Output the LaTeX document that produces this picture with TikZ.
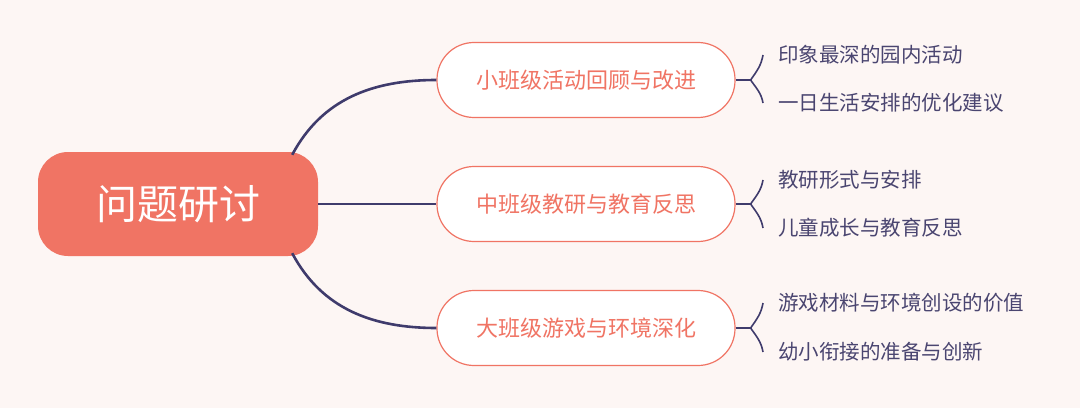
\documentclass[tikz,border=0pt]{standalone}
\usepackage{fontspec}
\newfontfamily\cjk{Noto Sans CJK SC}
\usepackage{tikz}
\usetikzlibrary{positioning,calc}
\usepackage{xcolor}
\definecolor{bgpink}{HTML}{FDF6F4}
\definecolor{salmon}{HTML}{F07464}
\definecolor{navy}{HTML}{3F3B6C}
\definecolor{leaftext}{HTML}{4A4570}

\begin{document}
\begin{tikzpicture}[x=1pt,y=1pt,
    root/.style={fill=salmon, text=white, rounded corners=30pt, minimum width=280pt,
      minimum height=104pt, inner sep=0pt, font=\cjk\fontsize{41}{41}\selectfont},
    topic/.style={draw=salmon, line width=1.2pt, fill=white, text=salmon, rounded corners=37pt,
      minimum width=298pt, minimum height=75pt, inner sep=0pt, font=\cjk\fontsize{22}{22}\selectfont},
    leaf/.style={anchor=west, text=leaftext, inner sep=0pt, font=\cjk\fontsize{20.5}{20.5}\selectfont},
    link/.style={draw=navy, line width=2.6pt},
    brace/.style={draw=navy, line width=1.6pt}]
  % Mind map: one root, three topics, two leaves per topic
  \fill[bgpink] (0,0) rectangle (1080,408);
  \node[root] (root) at (178,204) {问题研讨};
  \node[topic] (small) at (586,328) {小班级活动回顾与改进};
  \node[topic] (middle) at (586,204) {中班级教研与教育反思};
  \node[topic] (large) at (586,80) {大班级游戏与环境深化};
  \node[leaf] (small1) at (778,353) {印象最深的园内活动};
  \node[leaf] (small2) at (778,305) {一日生活安排的优化建议};
  \node[leaf] (middle1) at (778,228) {教研形式与安排};
  \node[leaf] (middle2) at (778,180) {儿童成长与教育反思};
  \node[leaf] (large1) at (778,105) {游戏材料与环境创设的价值};
  \node[leaf] (large2) at (778,56) {幼小衔接的准备与创新};
  \coordinate (rtop) at ([xshift=-26pt,yshift=-3pt]root.north east);
  \coordinate (rbot) at ([xshift=-26pt,yshift=3pt]root.south east);
  \draw[link] (rtop) to[out=62,in=180] (small.west);
  \draw[link] (root.east) -- (middle.west);
  \draw[link] (rbot) to[out=-62,in=180] (large.west);
  \coordinate (jsmall) at ([xshift=15pt]small.east);
  \coordinate (jmiddle) at ([xshift=15pt]middle.east);
  \coordinate (jlarge) at ([xshift=15pt]large.east);
  \draw[brace] (small.east) -- (jsmall);
  \draw[brace] (jsmall) to[out=55,in=-100] ([xshift=-15pt]small1.west);
  \draw[brace] (jsmall) to[out=-55,in=100] ([xshift=-15pt]small2.west);
  \draw[brace] (middle.east) -- (jmiddle);
  \draw[brace] (jmiddle) to[out=55,in=-100] ([xshift=-15pt]middle1.west);
  \draw[brace] (jmiddle) to[out=-55,in=100] ([xshift=-15pt]middle2.west);
  \draw[brace] (large.east) -- (jlarge);
  \draw[brace] (jlarge) to[out=55,in=-100] ([xshift=-15pt]large1.west);
  \draw[brace] (jlarge) to[out=-55,in=100] ([xshift=-15pt]large2.west);
\end{tikzpicture}
\end{document}
